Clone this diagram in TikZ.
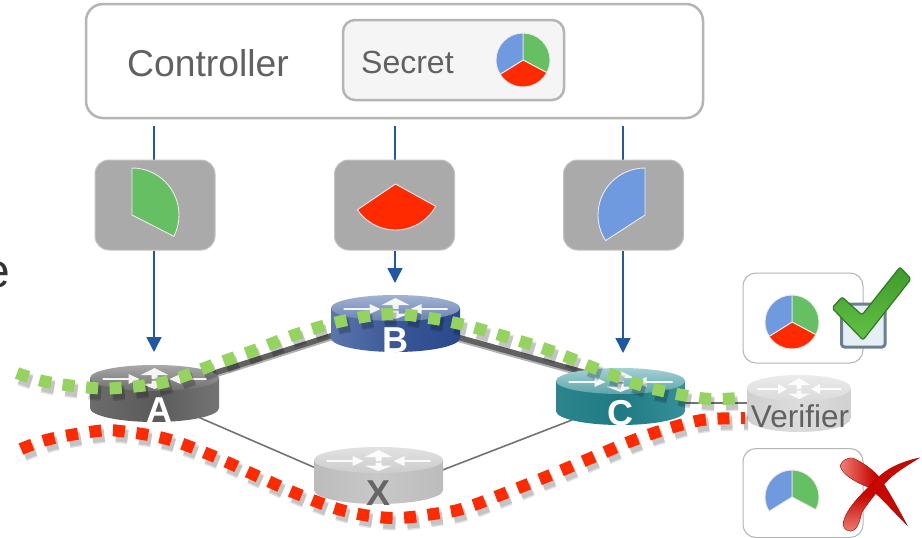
\documentclass[tikz,border=0pt]{standalone}
\usepackage{fontspec}
\setmainfont{Liberation Sans}
\usetikzlibrary{arrows.meta}
\definecolor{txtgray}{HTML}{616161}
\definecolor{boxgray}{HTML}{B5B5B5}
\definecolor{sharegray}{HTML}{AAAAAA}
\definecolor{flowblue}{HTML}{2058A5}
\definecolor{pgreen}{HTML}{66BF63}
\definecolor{pred}{HTML}{FF2A00}
\definecolor{pblue}{HTML}{6F9ADF}
\definecolor{dotgreen}{HTML}{95D35F}
\definecolor{dotred}{HTML}{FF2A00}
\definecolor{crossred}{HTML}{C80800}
\definecolor{crosslight}{HTML}{F08078}
\definecolor{ckgreen}{HTML}{3F9A2C}
\definecolor{ckdark}{HTML}{2F7A24}
\definecolor{cklight}{HTML}{62C244}
\definecolor{ckbox}{HTML}{68808F}
\definecolor{ckfill}{HTML}{E6EEF6}
\definecolor{aL}{HTML}{6C6C6C}\definecolor{aM}{HTML}{5A5A5A}\definecolor{aR}{HTML}{747474}\definecolor{aT}{HTML}{A8A8A8}\definecolor{aB}{HTML}{6E6E6E}
\definecolor{bL}{HTML}{5B76AD}\definecolor{bM}{HTML}{3A5796}\definecolor{bR}{HTML}{2A4A8C}\definecolor{bT}{HTML}{A3B3D2}\definecolor{bB}{HTML}{6A82B4}
\definecolor{cL}{HTML}{2C858D}\definecolor{cM}{HTML}{1F7A83}\definecolor{cR}{HTML}{35909A}\definecolor{cT}{HTML}{A3D0D3}\definecolor{cB}{HTML}{5EA5AA}
\definecolor{xL}{HTML}{BCBCBC}\definecolor{xM}{HTML}{C8C8C8}\definecolor{xR}{HTML}{BCBCBC}\definecolor{xT}{HTML}{E2E2E2}\definecolor{xB}{HTML}{CCCCCC}
\definecolor{vL}{HTML}{D0D0D0}\definecolor{vM}{HTML}{DCDCDC}\definecolor{vR}{HTML}{D0D0D0}\definecolor{vT}{HTML}{EBEBEB}\definecolor{vB}{HTML}{DADADA}
\tikzset{
  sharebox/.style={fill=sharegray,draw=sharegray!70!white,line width=1pt,rounded corners=14pt,minimum width=120pt,minimum height=90pt,inner sep=0pt},
  verdictbox/.style={draw=boxgray,line width=1pt,fill=white,rounded corners=13pt,minimum width=120pt,minimum height=90pt,inner sep=0pt},
  flow/.style={draw=flowblue,line width=1.5pt},
  flowtip/.style={flow,-{Triangle[width=15pt,length=15pt]}},
  slice/.style={draw=white!85!gray,line width=.9pt,line join=round},
  trunk/.style={draw=black!62,line width=5.5pt},
  trunkshade/.style={draw=black!30,line width=3pt},
  link/.style={draw=black!55,line width=1.6pt},
  routerlabel/.style={font=\bfseries\fontsize{36}{36}\selectfont,inner sep=0pt,anchor=base},
  dotline/.style={line width=12pt,dash pattern=on 12pt off 11.6pt},
  dotshadow/.style={dotline,draw=black,opacity=.12,line width=#1},
}
\newcommand\sector[5]{\path[slice,fill=#5] (#1) -- ++(#3:#2pt) arc[start angle=#3,end angle=#4,radius=#2pt] -- cycle;}
\newcommand\router[4]{%
\begin{scope}[shift={(#1,#2)},xscale=#3]
  \shade[left color=#4L,right color=#4R,middle color=#4M] (-64.5,13) -- (-64.5,43) arc[start angle=180,end angle=360,x radius=64.5pt,y radius=14pt] -- (64.5,13) -- cycle;
  \shade[top color=#4T,bottom color=#4B] (0,13) ellipse[x radius=64.5pt,y radius=13pt];
  \begin{scope}[opacity=.9]
  \fill[white] (0,3) -- (14,10) -- (3,10) -- (3,14) -- (-3,14) -- (-3,10) -- (-14,10) -- cycle;
  \fill[white] (-52,13.2) -- (-26,13.2) -- (-26,9) -- (-15,14) -- (-26,19) -- (-26,14.8) -- (-52,14.8) -- cycle;
  \fill[white] (52,13.2) -- (26,13.2) -- (26,9) -- (15,14) -- (26,19) -- (26,14.8) -- (52,14.8) -- cycle;
  \fill[white] (0,24) -- (14,18.5) -- (3,18.5) -- (3,15.5) -- (-3,15.5) -- (-3,18.5) -- (-14,18.5) -- cycle;
  \end{scope}
\end{scope}}
\newcommand\greenroute{plot[smooth,tension=.6] coordinates {(17,373) (47,382) (93,388) (117,388) (165,382) (210,366) (255,350) (300,333) (347,320) (393,314) (442,320) (465,325) (510,338) (557,353) (602,371) (647,387) (693,397) (717,399) (738,398)}}
\newcommand\redroute{plot[smooth,tension=.6] coordinates {(21,449) (50,439) (97,431) (120,431) (167,439) (213,456) (257,476) (300,495) (345,511) (393,518) (440,513) (465,508) (508,492) (553,474) (598,455) (642,437) (688,423) (712,419) (745,418)}}
\begin{document}
\begin{tikzpicture}[x=1pt,y=-1pt]
\path[use as bounding box,fill=white] (0,0) rectangle (922,538);

\node[anchor=base east,inner sep=0pt,text=black!80,font=\fontsize{48}{48}\selectfont] (frag) at (10,287) {e};

% controller
\node[draw=boxgray,line width=2.5pt,fill=white,rounded corners=17pt,minimum width=617pt,minimum height=114pt,inner sep=0pt] (ctrl) at (394.5,61) {};
\node[anchor=base west,inner sep=0pt,text=txtgray,font=\fontsize{37.3}{37}\selectfont] (ctrltxt) at (127,76) {Controller};
\node[draw=boxgray,line width=2.5pt,fill=black!4,rounded corners=12pt,minimum width=221pt,minimum height=80pt,inner sep=0pt] (secret) at (453.5,60) {};
\node[anchor=base west,inner sep=0pt,text=txtgray,font=\fontsize{32}{32}\selectfont] (secrettxt) at (361,73) {Secret};
\coordinate (sp) at (523,60);
\sector{sp}{27}{90}{-28}{pgreen}
\sector{sp}{27}{-28}{-148}{pred}
\sector{sp}{27}{90}{212}{pblue}

\coordinate (ctrlA) at (154,126);
\coordinate (ctrlB) at (395,126);
\coordinate (ctrlC) at (623,126);
\coordinate (tipA) at (154,352);
\coordinate (tipB) at (395,283);
\coordinate (tipC) at (623,353);
\coordinate (Ane) at (205,376);
\coordinate (Bsw) at (340,333);
\coordinate (Bse) at (450,335);
\coordinate (Cnw) at (590,374);
\coordinate (Ase) at (198,417);
\coordinate (Xnw) at (318,469);
\coordinate (Xne) at (440,471);
\coordinate (Csw) at (572,420);
\coordinate (Ce) at (680,403);
\coordinate (Vw) at (750,403);

% shares
\draw[flow] (ctrlA) -- (tipA |- 165,165);
\draw[flow] (ctrlB) -- (tipB |- 165,165);
\draw[flow] (ctrlC) -- (tipC |- 165,165);
\node[sharebox] (s1) at (155,205) {};
\node[sharebox] (s2) at (394.5,205) {};
\node[sharebox] (s3) at (623.5,205) {};
\draw[flowtip] (s1.south -| tipA) -- (tipA);
\draw[flowtip] (s2.south -| tipB) -- (tipB);
\draw[flowtip] (s3.south -| tipC) -- (tipC);
\coordinate (w1) at (132,215);
\coordinate (w2) at (395.5,184);
\coordinate (w3) at (645,215);
\sector{w1}{47}{90}{-27}{pgreen}
\sector{w2}{46}{-29}{-146}{pred}
\sector{w3}{47}{90}{213}{pblue}

% links
\draw[trunkshade] ([shift={(1,3)}]Ane) -- ([shift={(1,3)}]Bsw);
\draw[trunkshade] ([shift={(-1,3)}]Bse) -- ([shift={(-1,3)}]Cnw);
\draw[trunk] (Ane) -- (Bsw);
\draw[trunk] (Bse) -- (Cnw);
\draw[link] (Ase) -- (Xnw);
\draw[link] (Xne) -- (Csw);
\draw[link] (Ce) -- (Vw);

% routers
\router{154.5}{365}{1}{a}
\router{395.5}{295}{1}{b}
\router{620.5}{368}{1}{c}
\router{378.5}{447}{1}{x}
\router{799}{375}{.806}{v}
\node[routerlabel,text=white] (lA) at (159,422) {A};
\node[routerlabel,text=white] (lB) at (395.5,352) {B};
\node[routerlabel,text=white] (lC) at (620.5,425) {C};
\node[routerlabel,text=black!60] (lX) at (378.5,505) {X};
\node[anchor=base,inner sep=0pt,text=txtgray,font=\fontsize{31.5}{32}\selectfont] (lV) at (800,427) {Verifier};

% routes
\begin{scope}[shift={(3,5)}]
\draw[dotshadow=15pt] \greenroute;
\draw[dotshadow=12pt] \greenroute;
\draw[dotshadow=15pt] \redroute;
\draw[dotshadow=12pt] \redroute;
\end{scope}
\draw[dotline,draw=dotgreen] \greenroute;
\draw[dotline,draw=dotred] \redroute;

% verifier results
\node[verdictbox] (ok) at (803,318) {};
\node[verdictbox,minimum height=89pt] (bad) at (803,493) {};
\coordinate (p1) at (792,322);
\coordinate (p2) at (792,497);
\sector{p1}{27}{90}{-28}{pgreen}
\sector{p1}{27}{-28}{-148}{pred}
\sector{p1}{27}{90}{212}{pblue}
\sector{p2}{27}{90}{-28}{pgreen}
\sector{p2}{27}{90}{212}{pblue}

% check mark
\path[draw=ckbox,line width=3pt,fill=ckfill,rounded corners=3pt] (841.5,304) rectangle (885,347);
\path[draw=ckdark,line width=1.2pt,line join=round,rounded corners=2pt,top color=ckgreen,bottom color=cklight] (832,308) -- (842,297) -- (862,315) -- (900,267) -- (911,279) -- (863,340) -- cycle;

% cross
\path[draw=crossred!80!black,line width=.4pt,left color=crosslight,right color=crossred,middle color=crossred] (840,466) .. controls (842,460) and (848,457) .. (853,458) .. controls (866,464) and (875,472) .. (880,478) .. controls (892,497) and (900,512) .. (907,525) .. controls (892,510) and (878,494) .. (868,487) .. controls (855,482) and (843,475) .. (840,466) -- cycle;
\path[draw=crossred!80!black,line width=.4pt,top color=crossred,bottom color=crosslight,middle color=crossred] (919,458) .. controls (900,462) and (885,470) .. (878,478) .. controls (860,495) and (845,510) .. (843,524) .. controls (843,530) and (850,533) .. (854,530) .. controls (860,525) and (860,518) .. (862,512) .. controls (870,500) and (880,488) .. (885,483) .. controls (895,472) and (908,465) .. (919,458) -- cycle;
\end{tikzpicture}
\end{document}
